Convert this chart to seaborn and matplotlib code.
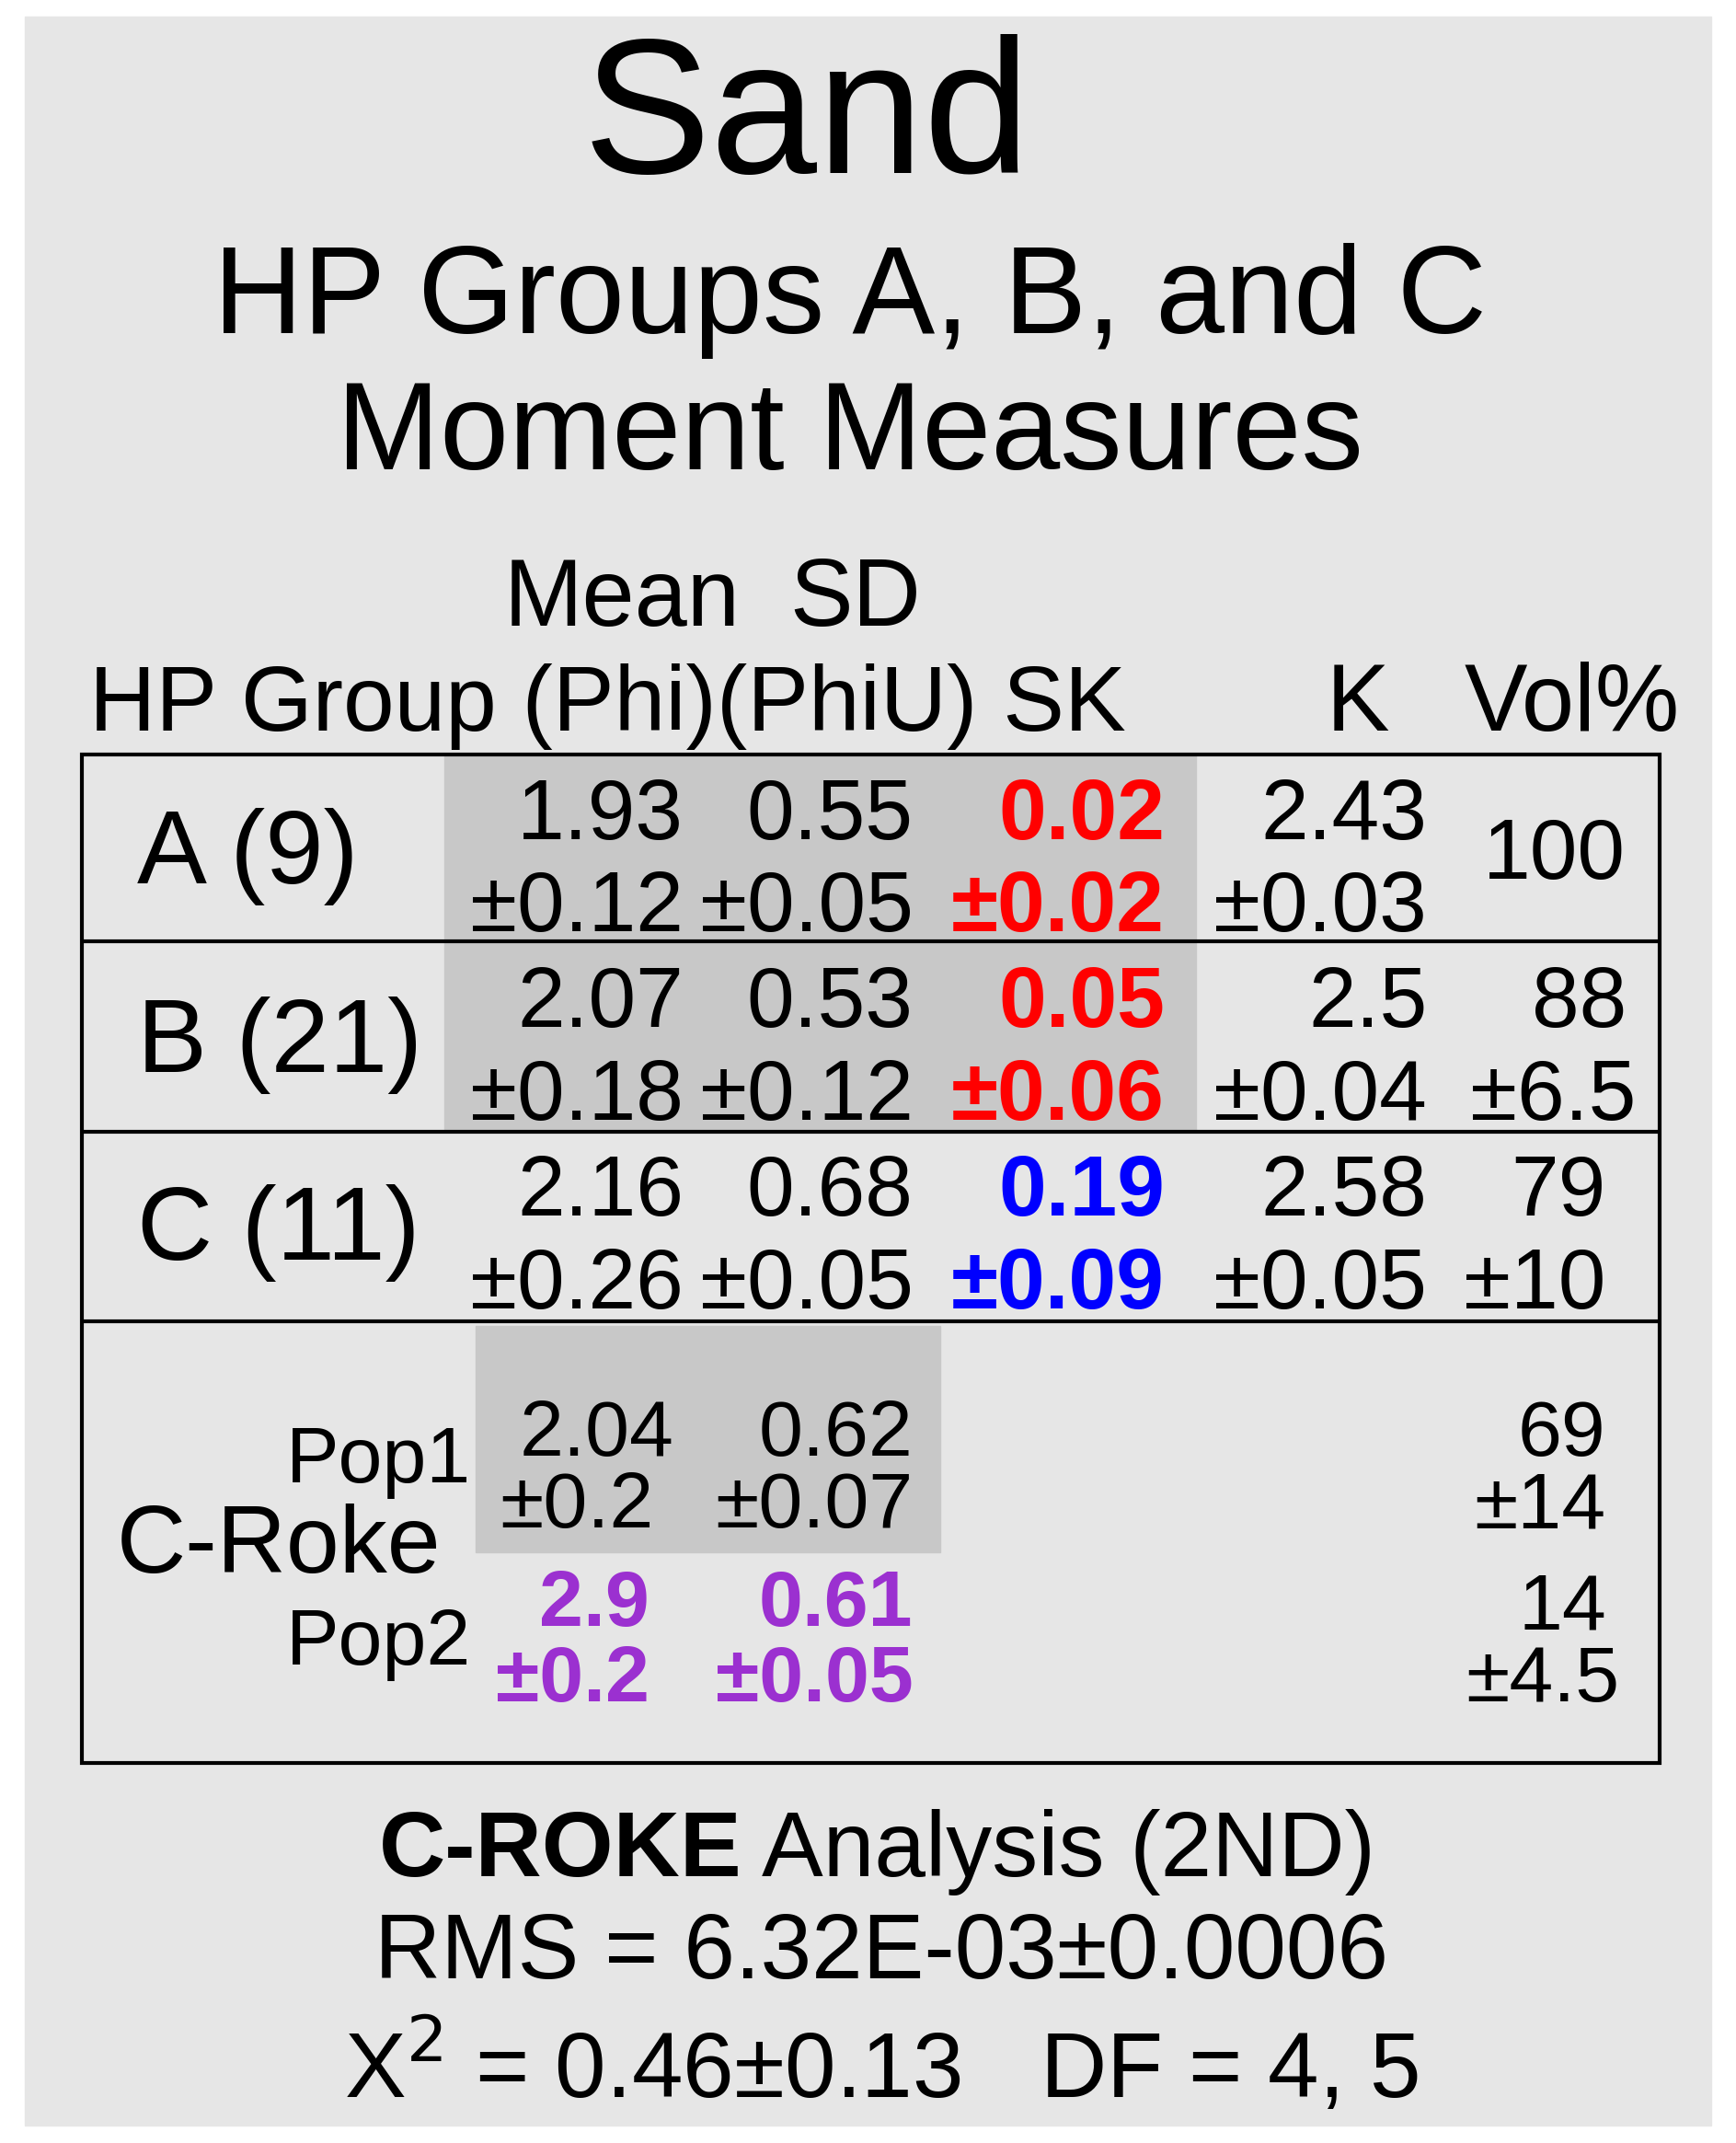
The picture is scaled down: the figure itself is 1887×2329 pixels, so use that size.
import matplotlib
matplotlib.use("Agg")
import matplotlib.pyplot as plt
import seaborn as sns
from matplotlib.patches import Rectangle

sns.set_theme(style="white")
plt.rcParams['font.family'] = ['Liberation Sans', 'DejaVu Sans']
plt.rcParams['text.color'] = 'black'

groups = ["A (9)", "B (21)", "C (11)"]
mean_v = ["1.93", "2.07", "2.16"]; mean_e = ["±0.12", "±0.18", "±0.26"]
sd_v = ["0.55", "0.53", "0.68"]; sd_e = ["±0.05", "±0.12", "±0.05"]
sk_v = ["0.02", "0.05", "0.19"]; sk_e = ["±0.02", "±0.06", "±0.09"]
k_v = ["2.43", "2.5", "2.58"]; k_e = ["±0.03", "±0.04", "±0.05"]
vol_v = ["100", "88", "79"]; vol_e = ["", "±6.5", "±10"]
sk_colors = ["#ff0000", "#ff0000", "#0000ff"]
pop_labels = ["Pop1", "Pop2"]
pop_mean = ["2.04", "2.9"]; pop_mean_e = ["±0.2", "±0.2"]
pop_sd = ["0.62", "0.61"]; pop_sd_e = ["±0.07", "±0.05"]
pop_vol = ["69", "14"]; pop_vol_e = ["±14", "±4.5"]

W, H = 1270, 1568
fig = plt.figure(figsize=(18.87, 23.29), dpi=100)
ax = fig.add_axes([0, 0, 1, 1])
ax.set_xlim(0, W); ax.set_ylim(H, 0); ax.axis("off")

ax.add_patch(Rectangle((18, 12), 1234, 1543, color="#e6e6e6", zorder=0))
ax.add_patch(Rectangle((325, 553), 550, 274, color="#c8c8c8", zorder=1))
ax.add_patch(Rectangle((348, 970), 340, 166, color="#c8c8c8", zorder=1))
ax.add_patch(Rectangle((60, 552), 1154, 738, fill=False, ec="black", lw=3, zorder=3))
for y in [689, 828, 967]:
    ax.plot([60, 1214], [y, y], color="black", lw=3, zorder=3)

def t(x, y, s, size, ha="center", color="black", **kw):
    ax.text(x, y + 5, s, fontsize=size, ha=ha, va="center", zorder=4, color=color, **kw)

t(590, 85, "Sand", 150)
t(622, 215, "HP Groups A, B, and C", 97)
t(622, 315, "Moment Measures", 97)
t(455, 435, "Mean", 74); t(626, 435, "SD", 74)
t(65, 512, "HP Group (Phi)(PhiU) SK", 72, ha="left")
t(993, 512, "K", 74); t(1150, 512, "Vol%", 74)

fs = 67
y1s = [593, 730, 868]; y2s = [660, 798, 936]; ly = [622, 760, 897]
vx1 = [None, 1190, 1175]; vx2 = [None, 1197, 1175]
for i in range(3):
    t(100, ly[i], groups[i], 82, ha="left")
    t(500, y1s[i], mean_v[i], fs, ha="right"); t(500, y2s[i], mean_e[i], fs, ha="right")
    t(668, y1s[i], sd_v[i], fs, ha="right"); t(668, y2s[i], sd_e[i], fs, ha="right")
    t(852, y1s[i], sk_v[i], fs, ha="right", color=sk_colors[i], fontweight="bold")
    t(852, y2s[i], sk_e[i], fs, ha="right", color=sk_colors[i], fontweight="bold")
    t(1044, y1s[i], k_v[i], fs, ha="right"); t(1044, y2s[i], k_e[i], fs, ha="right")
    if vol_e[i]:
        t(vx1[i], y1s[i], vol_v[i], fs, ha="right"); t(vx2[i], y2s[i], vol_e[i], fs, ha="right")
    else:
        t(1137, ly[i], vol_v[i], fs)

t(85, 1128, "C-Roke", 75, ha="left")
py1 = [1045, 1170]; py2 = [1098, 1225]; pl = [1065, 1198]
purple = "#9b30d0"
for j in range(2):
    t(345, pl[j], pop_labels[j], 62, ha="right")
    kw = {} if j == 0 else dict(color=purple, fontweight="bold")
    t(493 if j == 0 else 475, py1[j], pop_mean[j], 62, ha="right", **kw)
    t(478 if j == 0 else 475, py2[j], pop_mean_e[j], 62, ha="right", **kw)
    t(668, py1[j], pop_sd[j], 62, ha="right", **kw)
    t(668, py2[j], pop_sd_e[j], 62, ha="right", **kw)
    t(1175, py1[j] + 2*j, pop_vol[j], 62, ha="right")
    t(1175 if j == 0 else 1185, py2[j], pop_vol_e[j], 62, ha="right")

t(543, 1350, "C-ROKE", 72, ha="right", fontweight="bold")
t(557, 1350, "Analysis (2ND)", 72, ha="left")
t(645, 1425, "RMS = 6.32E-03±0.0006", 72)
t(645, 1508, "X$^2$ = 0.46±0.13   DF = 4, 5", 72)

fig.savefig("out.png", dpi=100)
